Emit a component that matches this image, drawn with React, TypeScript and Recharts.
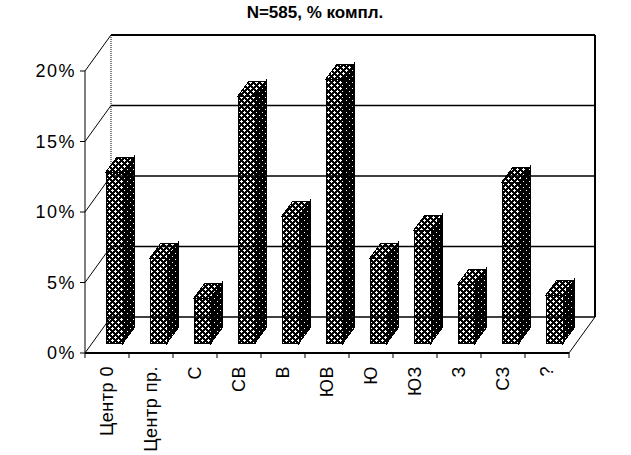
import React from 'react'
import {
  ComposedChart, Bar, XAxis, YAxis, ReferenceLine, ReferenceArea,
} from 'recharts'

// ── data ──
const categories = ['Центр 0', 'Центр пр.', 'С', 'СВ', 'В', 'ЮВ', 'Ю', 'ЮЗ', 'З', 'СЗ', '?']
const shares = [12.1, 6.0, 3.2, 17.5, 9.0, 18.7, 6.0, 8.0, 4.2, 11.4, 3.4]
const yTicks = [0, 5, 10, 15, 20]
const title = 'N=585, % компл.'

const data = categories.map((name, i) => ({ name, value: shares[i] }))

// ── layout ──
const W = 631
const H = 455
const PLOT_LEFT = 85
const PLOT_RIGHT = 569
const PLOT_TOP = 71
const PLOT_BOTTOM = 353
const Y_AXIS_W = 60
const X_AXIS_H = 95
const DEPTH_X = 26   // back wall offset
const DEPTH_Y = -36
const BAR_SHIFT_X = 7  // bar plane offset
const BAR_SHIFT_Y = -10
const BAR_DX = 11      // bar depth
const BAR_DY = -15
const FONT = '"Liberation Sans", Arial, sans-serif'

// ── 3D столбик ──
function Bar3D(props: any) {
  const { x, y, width, height } = props
  if (!height || height <= 0) return null
  const fx = Math.round(x + BAR_SHIFT_X)
  const fy = Math.round(y + BAR_SHIFT_Y)
  const w = Math.round(width)
  const h = Math.round(height)
  const side = `${fx + w},${fy} ${fx + w + BAR_DX},${fy + BAR_DY} ${fx + w + BAR_DX},${fy + BAR_DY + h} ${fx + w},${fy + h}`
  const top = `${fx},${fy} ${fx + BAR_DX},${fy + BAR_DY} ${fx + w + BAR_DX},${fy + BAR_DY} ${fx + w},${fy}`
  return (
    <g shapeRendering="crispEdges">
      <polygon points={side} fill="url(#sideHatch)" stroke="#000" strokeWidth={1} />
      <polygon points={top} fill="url(#hatch)" stroke="#000" strokeWidth={1} />
      <rect x={fx} y={fy} width={w} height={h} fill="url(#hatch)" stroke="#000" strokeWidth={1} />
    </g>
  )
}

// ── задняя стена ──
function BackWall(props: any) {
  const { x, y, width, height } = props
  const bx = x + DEPTH_X
  const by = y + DEPTH_Y
  return (
    <g fill="none" stroke="#000">
      <line x1={bx} y1={by} x2={bx} y2={by + height} strokeWidth={1} strokeDasharray="1 1" />
      <line x1={bx} y1={by} x2={bx + width} y2={by} strokeWidth={2} />
      <line x1={bx + width} y1={by} x2={bx + width} y2={by + height} strokeWidth={2} />
      <line x1={x + width} y1={y + height} x2={bx + width} y2={by + height} strokeWidth={1} />
    </g>
  )
}

// ── линии сетки ──
function GridLine(props: any) {
  const { x1, y1, x2 } = props
  return (
    <g fill="none" stroke="#000">
      <line x1={x1} y1={y1} x2={x1 + DEPTH_X} y2={y1 + DEPTH_Y} strokeWidth={1} />
      <line x1={x1 + DEPTH_X} y1={y1 + DEPTH_Y} x2={x2 + DEPTH_X} y2={y1 + DEPTH_Y} strokeWidth={1.5} />
    </g>
  )
}

function XTick({ x, payload }: any) {
  const half = (PLOT_RIGHT - PLOT_LEFT) / categories.length / 2
  const ty = PLOT_BOTTOM + 13
  return (
    <g>
      <line x1={x - half} y1={PLOT_BOTTOM} x2={x - half} y2={PLOT_BOTTOM + 5} stroke="#000" />
      {payload.index === categories.length - 1 && (
        <line x1={x + half} y1={PLOT_BOTTOM} x2={x + half} y2={PLOT_BOTTOM + 5} stroke="#000" />
      )}
      <text
        x={x} y={ty} dy="0.36em" textAnchor="end"
        transform={`rotate(-90 ${x} ${ty})`}
        fontSize={18} letterSpacing={0.5} fontFamily={FONT} fill="#000"
      >
        {payload.value}
      </text>
    </g>
  )
}

function YTick({ y, payload }: any) {
  return (
    <text x={PLOT_LEFT - 9} y={y} dy="0.36em" textAnchor="end" fontSize={18} letterSpacing={1.5} fontFamily={FONT} fill="#000">
      {`${payload.value}%`}
    </text>
  )
}

export default function App() {
  return (
    <div style={{ position: 'absolute', left: 0, top: 0, width: W, height: H, background: '#fff' }}>
      <div
        style={{
          position: 'absolute', left: 0, top: 3, width: 630, textAlign: 'center',
          fontFamily: FONT, fontWeight: 'bold', fontSize: 17, color: '#000',
        }}
      >
        {title}
      </div>
      <ComposedChart
        width={W} height={H} data={data}
        margin={{
          top: PLOT_TOP,
          right: W - PLOT_RIGHT,
          bottom: H - PLOT_BOTTOM - X_AXIS_H,
          left: PLOT_LEFT - Y_AXIS_W,
        }}
      >
        <defs>
          <pattern id="hatch" width="6" height="6" patternUnits="userSpaceOnUse">
            <rect width="6" height="6" fill="#000" />
            <rect x="0" y="1" width="3" height="1" fill="#fff" />
            <rect x="1" y="0" width="1" height="3" fill="#fff" />
            <rect x="3" y="4" width="3" height="1" fill="#fff" />
            <rect x="4" y="3" width="1" height="3" fill="#fff" />
          </pattern>
          <pattern id="sideHatch" width="6" height="6" patternUnits="userSpaceOnUse">
            <rect width="6" height="6" fill="#000" />
            <rect x="1" y="1" width="1" height="1" fill="#fff" />
            <rect x="4" y="4" width="1" height="1" fill="#fff" />
          </pattern>
        </defs>
        <XAxis
          dataKey="name" height={X_AXIS_H} interval={0}
          axisLine={{ stroke: '#000', strokeWidth: 2 }} tickLine={false}
          tick={<XTick />}
        />
        <YAxis
          width={Y_AXIS_W} domain={[0, 20]} ticks={yTicks} interval={0}
          axisLine={{ stroke: '#000', strokeWidth: 1 }}
          tickLine={{ stroke: '#000' }} tickSize={5}
          tick={<YTick />}
        />
        <ReferenceArea y1={0} y2={20} shape={BackWall} fill="none" />
        {yTicks.map(t => (
          <ReferenceLine key={t} y={t} shape={GridLine} />
        ))}
        <Bar dataKey="value" barSize={17} shape={Bar3D} isAnimationActive={false} />
      </ComposedChart>
    </div>
  )
}
